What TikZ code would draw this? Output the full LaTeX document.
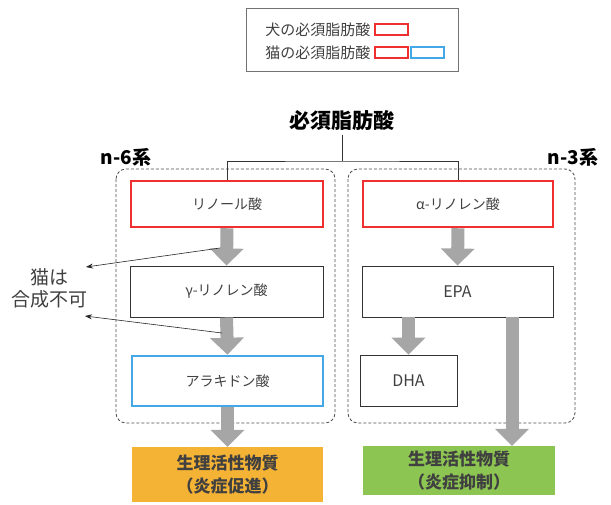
\documentclass[tikz,border=0pt]{standalone}
\usepackage{fontspec}
\setmainfont{Noto Sans CJK JP}
\usetikzlibrary{arrows.meta}
\definecolor{myred}{HTML}{EE3030}
\definecolor{myblue}{HTML}{45A8E6}
\definecolor{myorange}{HTML}{F5B335}
\definecolor{mygreen}{HTML}{8DC553}
\definecolor{txt}{HTML}{404040}
\definecolor{arrgray}{HTML}{A6A6A6}
\begin{document}
\begin{tikzpicture}[x=1pt,y=-1pt,
  box/.style={draw, inner sep=0pt, text=txt, font=\fontsize{14}{16}\selectfont},
  redbox/.style={box, draw=myred, line width=2.5pt},
  bluebox/.style={box, draw=myblue, line width=2.5pt},
  blackbox/.style={box, draw=black!80, line width=0.9pt},
  fillbox/.style={inner sep=0pt, align=center, text=txt, font=\fontsize{17}{23}\selectfont\bfseries},
  group/.style={draw=black!70, dashed, dash pattern=on 3pt off 2pt, rounded corners=10pt, line width=0.8pt},
  bigarrow/.style={draw=arrgray, line width=13pt, -{Triangle[width=33pt,length=17pt]}, arrgray},
  thinarrow/.style={draw=black!85, line width=0.6pt, -{Stealth[length=7pt,width=5pt]}},
  legrect/.style={draw, line width=2pt, minimum width=33pt, minimum height=11pt, inner sep=0pt},
  legtext/.style={anchor=east, text=txt, font=\fontsize{15}{17}\selectfont},
  head/.style={text=black, font=\fontsize{19}{22}\selectfont\bfseries}
]
\useasboundingbox (0,0) rectangle (611,504);

% legend
\node[draw=black!55, line width=1pt, minimum width=212pt, minimum height=63pt, inner sep=0pt] (legend) at (352,39.5) {};
\node[legtext] (l1) at (374,30) {犬の必須脂肪酸};
\node[legtext] (l2) at (374,52.5) {猫の必須脂肪酸};
\node[legrect, draw=myred] (r1) at (391,29.5) {};
\node[legrect, draw=myred] (r2) at (391,52.5) {};
\node[legrect, draw=myblue] (b2) at (427.5,52.5) {};

% headings
\node[head, font=\fontsize{21}{24}\selectfont\bfseries] (title) at (342,121) {必須脂肪酸};
\node[head] (n6) at (126,157) {n-6系};
\node[head] (n3) at (573,157) {n-3系};

% dashed groups
\draw[group] (116,169) rectangle (335,423);
\draw[group] (348,169) rectangle (575,423);

% boxes
\node[redbox, minimum width=192pt, minimum height=46pt] (lin) at (227,204) {リノール酸};
\node[redbox, minimum width=190pt, minimum height=46pt] (alin) at (458,204) {α-リノレン酸};
\node[blackbox, minimum width=193pt, minimum height=51pt] (glin) at (226.5,291.5) {γ-リノレン酸};
\node[blackbox, minimum width=191pt, minimum height=51pt, font=\fontsize{16}{18}\selectfont] (epa) at (457.5,291.5) {EPA};
\node[bluebox, minimum width=191pt, minimum height=50pt] (ara) at (227.5,381) {アラキドン酸};
\node[blackbox, minimum width=97pt, minimum height=51pt, font=\fontsize{16}{18}\selectfont] (dha) at (408.5,380.5) {DHA};
\node[fillbox, fill=myorange, minimum width=191pt, minimum height=55pt] (pro) at (227.5,474.5) {生理活性物質\\（炎症促進）};
\node[fillbox, fill=mygreen, minimum width=192pt, minimum height=49pt] (anti) at (459,470.5) {生理活性物質\\（炎症抑制）};

% title connector
\coordinate (tj) at (342,161);
\draw[black!80, line width=0.8pt] (title.south) -- (tj);
\draw[black!80, line width=0.8pt] (lin.north) |- (tj) -| (alin.north);

% gray arrows
\draw[bigarrow] (lin.south) -- (glin.north);
\draw[bigarrow] (glin.south) -- (ara.north);
\draw[bigarrow] (ara.south) -- (pro.north);
\draw[bigarrow] (alin.south) -- (epa.north);
\draw[bigarrow] (epa.south -| dha.north) -- (dha.north);
\coordinate (epaout) at (512,317);
\draw[bigarrow] (epaout) -- (epaout |- anti.north);

% cat note
\node[align=center, text=txt, font=\fontsize{19}{22}\selectfont] (cat) at (50,288) {猫は\\合成不可};
\coordinate (c1s) at (220,248);
\coordinate (c1e) at (86,267);
\coordinate (c2s) at (222,333);
\coordinate (c2e) at (85,316);
\draw[thinarrow] (c1s) -- (c1e);
\draw[thinarrow] (c2s) -- (c2e);
\end{tikzpicture}
\end{document}
